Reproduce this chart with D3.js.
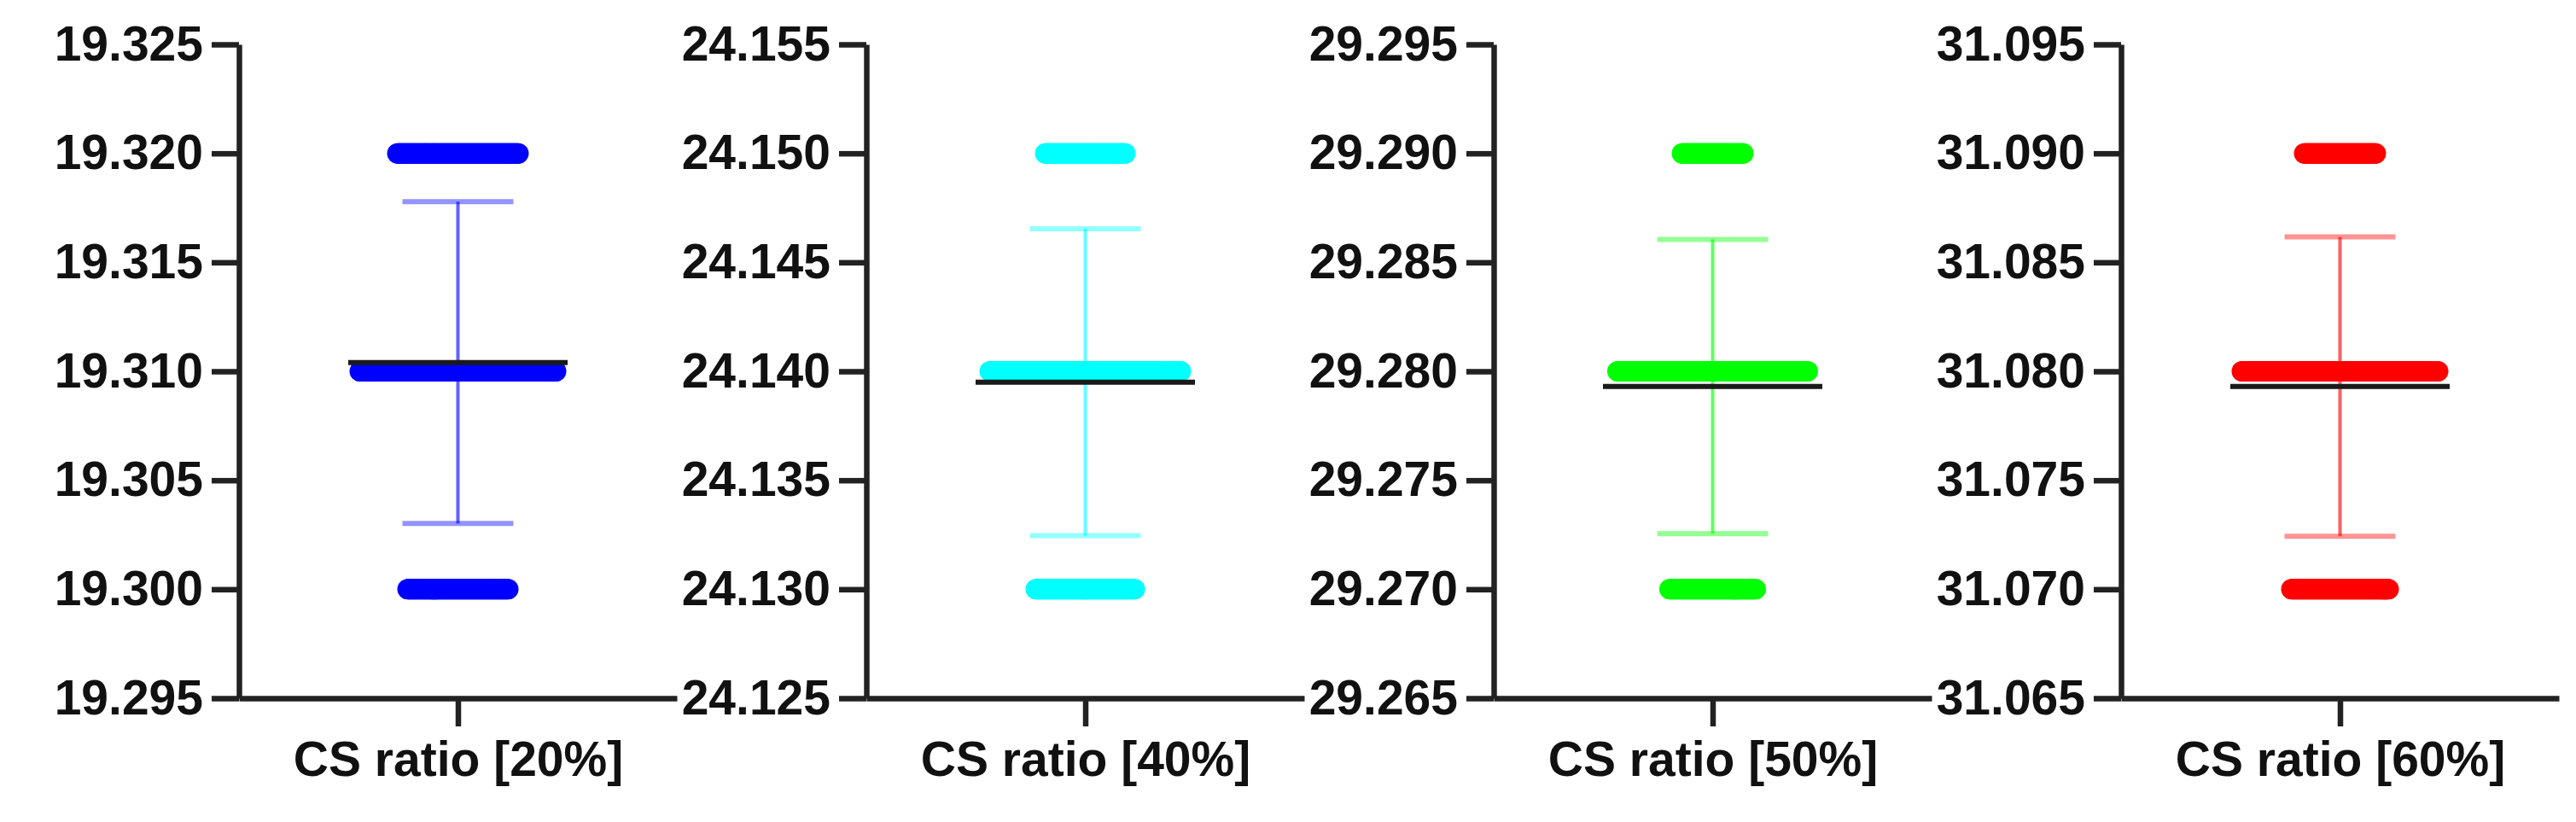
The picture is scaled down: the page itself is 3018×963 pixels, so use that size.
<!doctype html>
<html lang="en">

<head>
  <meta charset="utf-8">
  <title>CS ratio scatter - D3</title>
  <style>
    body { margin: 0; background: #fff; }
    svg { display: block; }
    text { font-family: "Liberation Sans", Arial, sans-serif; font-weight: bold; }
  </style>
</head>

<body>
  <svg></svg>

  <script src="https://cdn.jsdelivr.net/npm/d3@7"></script>
  <script>
    const width = 3018;
    const height = 963;

    // data
    const categories = ['CS ratio [20%]', 'CS ratio [40%]', 'CS ratio [50%]', 'CS ratio [60%]'];
    const colors = ['#0000ff', '#00ffff', '#00ff00', '#ff0000'];
    // value levels where the points sit, and how many points sit on each
    const levels = [
      [19.300, 19.310, 19.320],
      [24.130, 24.140, 24.150],
      [29.270, 29.280, 29.290],
      [31.070, 31.080, 31.090]
    ];
    const counts = [
      [119, 231, 143],
      [117, 225, 95],
      [102, 224, 73],
      [115, 231, 85]
    ];
    const means = [19.3104, 24.1395, 29.2793, 31.0793];
    const sds = [0.00738, 0.00704, 0.00675, 0.00687];
    const yTicks = [
      [19.295, 19.300, 19.305, 19.310, 19.315, 19.320, 19.325],
      [24.125, 24.130, 24.135, 24.140, 24.145, 24.150, 24.155],
      [29.265, 29.270, 29.275, 29.280, 29.285, 29.290, 29.295],
      [31.065, 31.070, 31.075, 31.080, 31.085, 31.090, 31.095]
    ];

    const plotTop = 52;
    const plotBottom = 818;
    const plotWidth = 513;
    const dotR = 12;
    const dotStep = 1;
    const meanWidth = 257;
    const capWidth = 130;
    const axisColor = '#222';

    const svg = d3.select('svg')
      .attr('width', width)
      .attr('height', height)
      .attr('viewBox', [0, 0, width, height]);

    svg.append('rect')
      .attr('width', width)
      .attr('height', height)
      .attr('fill', '#fff');

    // 每个面板的 y 轴位置
    const panelX = d3.scaleLinear().domain([0, 3]).range([280, 2485]);

    categories.forEach((cat, i) => {
      const g = svg.append('g')
        .attr('transform', 'translate(' + panelX(i) + ',0)');

      const ticks = yTicks[i];
      const y = d3.scaleLinear()
        .domain([ticks[0], ticks[ticks.length - 1]])
        .range([plotBottom, plotTop]);

      const x = d3.scalePoint()
        .domain([cat])
        .range([0, plotWidth])
        .padding(0.5);

      const cx = x(cat);
      const col = colors[i];

      // 误差线 (mean ± SD)
      const eb = g.append('g');
      eb.append('line')
        .attr('x1', cx).attr('x2', cx)
        .attr('y1', y(means[i] + sds[i]))
        .attr('y2', y(means[i] - sds[i]))
        .attr('stroke', col)
        .attr('stroke-opacity', 0.62)
        .attr('stroke-width', 4);
      [means[i] + sds[i], means[i] - sds[i]].forEach(v => {
        eb.append('line')
          .attr('x1', cx - capWidth / 2).attr('x2', cx + capWidth / 2)
          .attr('y1', y(v)).attr('y2', y(v))
          .attr('stroke', col)
          .attr('stroke-opacity', 0.42)
          .attr('stroke-width', 6);
      });

      // 散点
      levels[i].forEach((v, k) => {
        const n = counts[i][k];
        g.append('g')
          .selectAll('circle')
          .data(d3.range(n))
          .join('circle')
          .attr('cx', j => cx + (j - (n - 1) / 2) * dotStep)
          .attr('cy', y(v))
          .attr('r', dotR)
          .attr('fill', col);
      });

      // 均值线
      g.append('line')
        .attr('x1', cx - meanWidth / 2).attr('x2', cx + meanWidth / 2)
        .attr('y1', y(means[i])).attr('y2', y(means[i]))
        .attr('stroke', '#1a1a1a')
        .attr('stroke-width', 6);

      // y 轴
      g.append('g')
        .call(d3.axisLeft(y)
          .tickValues(ticks)
          .tickFormat(d3.format('.3f'))
          .tickSize(32)
          .tickSizeOuter(0)
          .tickPadding(10))
        .call(a => a.selectAll('path, line').attr('stroke', axisColor).attr('stroke-width', 6.5))
        .call(a => a.selectAll('text').attr('font-size', 57).attr('fill', '#111').attr('font-family', null));

      // x 轴
      g.append('g')
        .attr('transform', 'translate(0,' + plotBottom + ')')
        .call(d3.axisBottom(x)
          .tickSize(33)
          .tickSizeOuter(0)
          .tickPadding(18))
        .call(a => a.selectAll('path, line').attr('stroke', axisColor).attr('stroke-width', 6.5))
        .call(a => a.selectAll('text').attr('font-size', 57).attr('fill', '#111').attr('font-family', null));
    });
  </script>
</body>

</html>
